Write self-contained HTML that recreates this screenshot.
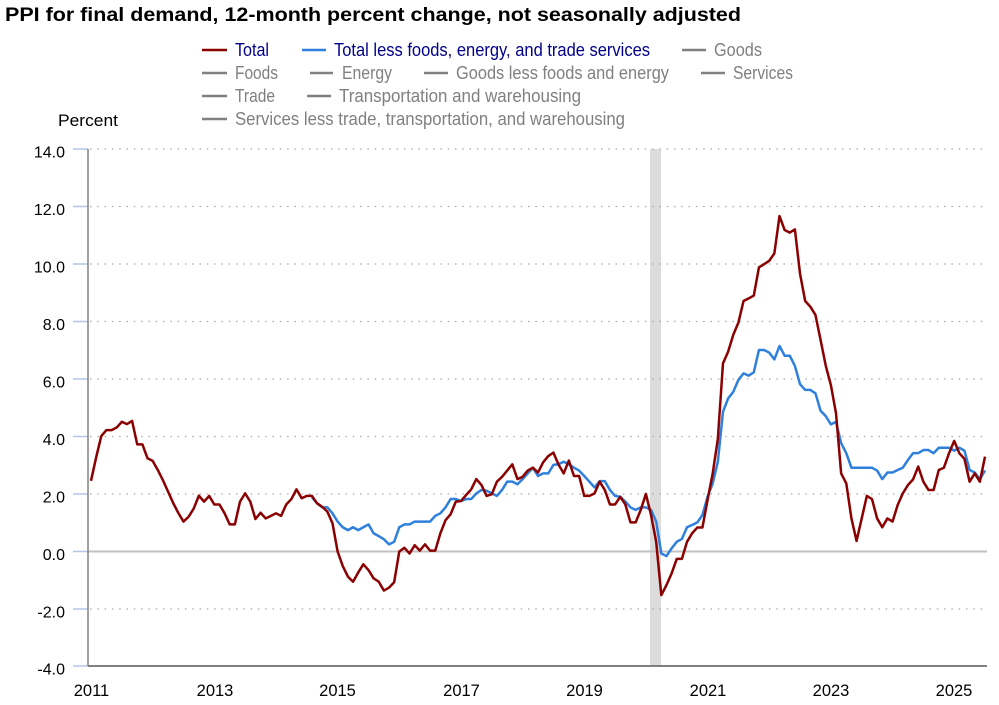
<!DOCTYPE html>
<html><head><meta charset="utf-8"><style>
html,body{margin:0;padding:0;background:#fff;}
svg{display:block;}
text{font-family:"Liberation Sans",Arial,sans-serif;}
</style></head><body>
<svg width="999" height="705" viewBox="0 0 999 705" xmlns="http://www.w3.org/2000/svg">
<rect width="999" height="705" fill="#fff"/>
<text x="5" y="21" font-size="19.5" font-weight="bold" fill="#000" textLength="736" lengthAdjust="spacingAndGlyphs">PPI for final demand, 12-month percent change, not seasonally adjusted</text>
<g stroke-width="2.5">
<line x1="202" y1="50" x2="227" y2="50" stroke="#8b0000"/>
<line x1="302" y1="50" x2="326" y2="50" stroke="#2f80dc"/>
<line x1="682" y1="50" x2="706" y2="50" stroke="#808080"/>
<line x1="202" y1="73" x2="227" y2="73" stroke="#808080"/>
<line x1="310" y1="73" x2="333" y2="73" stroke="#808080"/>
<line x1="424" y1="73" x2="448" y2="73" stroke="#808080"/>
<line x1="701" y1="73" x2="725" y2="73" stroke="#808080"/>
<line x1="202" y1="96" x2="227" y2="96" stroke="#808080"/>
<line x1="307" y1="96" x2="331" y2="96" stroke="#808080"/>
<line x1="202" y1="119" x2="227" y2="119" stroke="#808080"/>
</g>
<g font-size="18">
<text x="235" y="56" fill="#00008b" textLength="34" lengthAdjust="spacingAndGlyphs">Total</text>
<text x="334" y="56" fill="#00008b" textLength="316" lengthAdjust="spacingAndGlyphs">Total less foods, energy, and trade services</text>
<text x="714" y="56" fill="#808080" textLength="48" lengthAdjust="spacingAndGlyphs">Goods</text>
<text x="235" y="79" fill="#808080" textLength="43" lengthAdjust="spacingAndGlyphs">Foods</text>
<text x="342" y="79" fill="#808080" textLength="50" lengthAdjust="spacingAndGlyphs">Energy</text>
<text x="456" y="79" fill="#808080" textLength="213" lengthAdjust="spacingAndGlyphs">Goods less foods and energy</text>
<text x="733" y="79" fill="#808080" textLength="60" lengthAdjust="spacingAndGlyphs">Services</text>
<text x="235" y="102" fill="#808080" textLength="40" lengthAdjust="spacingAndGlyphs">Trade</text>
<text x="339" y="102" fill="#808080" textLength="242" lengthAdjust="spacingAndGlyphs">Transportation and warehousing</text>
<text x="235" y="125" fill="#808080" textLength="390" lengthAdjust="spacingAndGlyphs">Services less trade, transportation, and warehousing</text>
</g>
<text x="58" y="126" font-size="17" fill="#000" textLength="60" lengthAdjust="spacingAndGlyphs">Percent</text>
<!-- recession -->
<rect x="650" y="149" width="11" height="517" fill="#dcdcdc"/>
<!-- grid -->
<g stroke="#a8a8a8" stroke-width="1.3" stroke-dasharray="1.5 5.8">
<line x1="90" y1="149" x2="987" y2="149"/>
<line x1="90" y1="206.5" x2="987" y2="206.5"/>
<line x1="90" y1="264" x2="987" y2="264"/>
<line x1="90" y1="321.5" x2="987" y2="321.5"/>
<line x1="90" y1="379" x2="987" y2="379"/>
<line x1="90" y1="436.5" x2="987" y2="436.5"/>
<line x1="90" y1="494" x2="987" y2="494"/>
<line x1="90" y1="609" x2="987" y2="609"/>
</g>
<line x1="88" y1="551.5" x2="987" y2="551.5" stroke="#c0c0c0" stroke-width="2"/>
<g stroke="#b4c6e7" stroke-width="1.5">
<line x1="73" y1="149" x2="88" y2="149"/>
<line x1="73" y1="206.5" x2="88" y2="206.5"/>
<line x1="73" y1="264" x2="88" y2="264"/>
<line x1="73" y1="321.5" x2="88" y2="321.5"/>
<line x1="73" y1="379" x2="88" y2="379"/>
<line x1="73" y1="436.5" x2="88" y2="436.5"/>
<line x1="73" y1="494" x2="88" y2="494"/>
<line x1="73" y1="551.5" x2="88" y2="551.5"/>
<line x1="73" y1="609" x2="88" y2="609"/>
<line x1="73" y1="666" x2="88" y2="666"/>
</g>
<line x1="88" y1="149" x2="88" y2="666" stroke="#808080" stroke-width="1.5"/>
<line x1="88" y1="666" x2="987" y2="666" stroke="#808080" stroke-width="2"/>
<g font-size="16" fill="#000" text-anchor="end">
<text x="65" y="157.5">14.0</text>
<text x="65" y="215">12.0</text>
<text x="65" y="272.5">10.0</text>
<text x="65" y="330">8.0</text>
<text x="65" y="387.5">6.0</text>
<text x="65" y="445">4.0</text>
<text x="65" y="502.5">2.0</text>
<text x="65" y="560">0.0</text>
<text x="65" y="617.5">-2.0</text>
<text x="65" y="674.5">-4.0</text>
</g>
<g font-size="16.5" fill="#000" text-anchor="middle">
<text x="91.5" y="696">2011</text>
<text x="215" y="696">2013</text>
<text x="337.5" y="696">2015</text>
<text x="461.5" y="696">2017</text>
<text x="584.5" y="696">2019</text>
<text x="708" y="696">2021</text>
<text x="831" y="696">2023</text>
<text x="954" y="696">2025</text>
</g>
<g transform="translate(91,551.5) scale(5.138,-28.5)" fill="none" stroke-linejoin="round">
<polyline vector-effect="non-scaling-stroke" stroke="#2f80dc" stroke-width="2.5" points="43,1.9 44,1.69 45,1.55 46,1.55 47,1.34 48,1.05 49,0.85 50,0.75 51,0.85 52,0.75 53,0.85 54,0.95 55,0.64 56,0.54 57,0.43 58,0.25 59,0.34 60,0.85 61,0.95 62,0.95 63,1.05 64,1.05 65,1.05 66,1.05 67,1.25 68,1.34 69,1.55 70,1.84 71,1.84 72,1.77 73,1.84 74,1.84 75,2.04 76,2.16 77,2.13 78,2.04 79,1.95 80,2.16 81,2.45 82,2.45 83,2.36 84,2.54 85,2.74 86,2.94 87,2.65 88,2.74 89,2.74 90,3.04 91,3.06 92,3.15 93,3.06 94,2.94 95,2.84 96,2.65 97,2.45 98,2.25 99,2.47 100,2.47 101,2.16 102,1.95 103,1.92 104,1.75 105,1.55 106,1.46 107,1.55 108,1.55 109,1.46 110,1.05 111,-0.07 112,-0.16 113,0.11 114,0.34 115,0.44 116,0.85 117,0.93 118,1.02 119,1.28 120,1.92 121,2.39 122,3.15 123,4.9 124,5.37 125,5.6 126,6.02 127,6.25 128,6.17 129,6.29 130,7.07 131,7.07 132,6.98 133,6.74 134,7.21 135,6.87 136,6.87 137,6.51 138,5.87 139,5.67 140,5.67 141,5.55 142,4.94 143,4.75 144,4.46 145,4.55 146,3.8 147,3.45 148,2.94 149,2.94 150,2.94 151,2.94 152,2.94 153,2.84 154,2.54 155,2.77 156,2.77 157,2.86 158,2.94 159,3.21 160,3.45 161,3.45 162,3.56 163,3.56 164,3.45 165,3.64 166,3.64 167,3.64 168,3.54 169,3.64 170,3.54 171,2.86 172,2.77 173,2.54 174,2.84"/>
<polyline vector-effect="non-scaling-stroke" stroke="#8b0000" stroke-width="2.5" points="0,2.48 1,3.3 2,4.05 3,4.26 4,4.26 5,4.35 6,4.55 7,4.47 8,4.58 9,3.76 10,3.76 11,3.27 12,3.18 13,2.86 14,2.5 15,2.1 16,1.7 17,1.35 18,1.05 19,1.22 20,1.51 21,1.96 22,1.75 23,1.95 24,1.65 25,1.65 26,1.34 27,0.95 28,0.95 29,1.75 30,2.04 31,1.75 32,1.14 33,1.36 34,1.16 35,1.25 36,1.34 37,1.25 38,1.65 39,1.84 40,2.18 41,1.87 42,1.95 43,1.95 44,1.69 45,1.57 46,1.4 47,0.99 48,0 49,-0.51 50,-0.88 51,-1.06 52,-0.74 53,-0.45 54,-0.65 55,-0.94 56,-1.06 57,-1.37 58,-1.27 59,-1.08 60,0 61,0.13 62,-0.07 63,0.22 64,0.03 65,0.25 66,0.03 67,0.03 68,0.64 69,1.1 70,1.31 71,1.75 72,1.77 73,1.98 74,2.18 75,2.54 76,2.33 77,1.95 78,2.01 79,2.45 80,2.62 81,2.84 82,3.06 83,2.54 84,2.62 85,2.84 86,2.94 87,2.77 88,3.13 89,3.35 90,3.47 91,3.05 92,2.74 93,3.19 94,2.65 95,2.65 96,1.95 97,1.95 98,2.04 99,2.45 100,2.16 101,1.65 102,1.65 103,1.92 104,1.65 105,1.02 106,1.02 107,1.46 108,2.02 109,1.28 110,0.34 111,-1.53 112,-1.18 113,-0.77 114,-0.26 115,-0.26 116,0.34 117,0.64 118,0.84 119,0.84 120,1.81 121,2.74 122,3.95 123,6.6 124,7.01 125,7.6 126,8.03 127,8.79 128,8.88 129,8.98 130,9.97 131,10.08 132,10.2 133,10.46 134,11.77 135,11.28 136,11.19 137,11.3 138,9.74 139,8.79 140,8.59 141,8.3 142,7.42 143,6.52 144,5.84 145,4.85 146,2.74 147,2.39 148,1.16 149,0.37 150,1.16 151,1.95 152,1.84 153,1.16 154,0.85 155,1.16 156,1.05 157,1.63 158,2.04 159,2.33 160,2.53 161,2.98 162,2.45 163,2.16 164,2.16 165,2.86 166,2.94 167,3.45 168,3.88 169,3.45 170,3.25 171,2.45 172,2.74 173,2.45 174,3.33"/>
</g>
</svg>
</body></html>
